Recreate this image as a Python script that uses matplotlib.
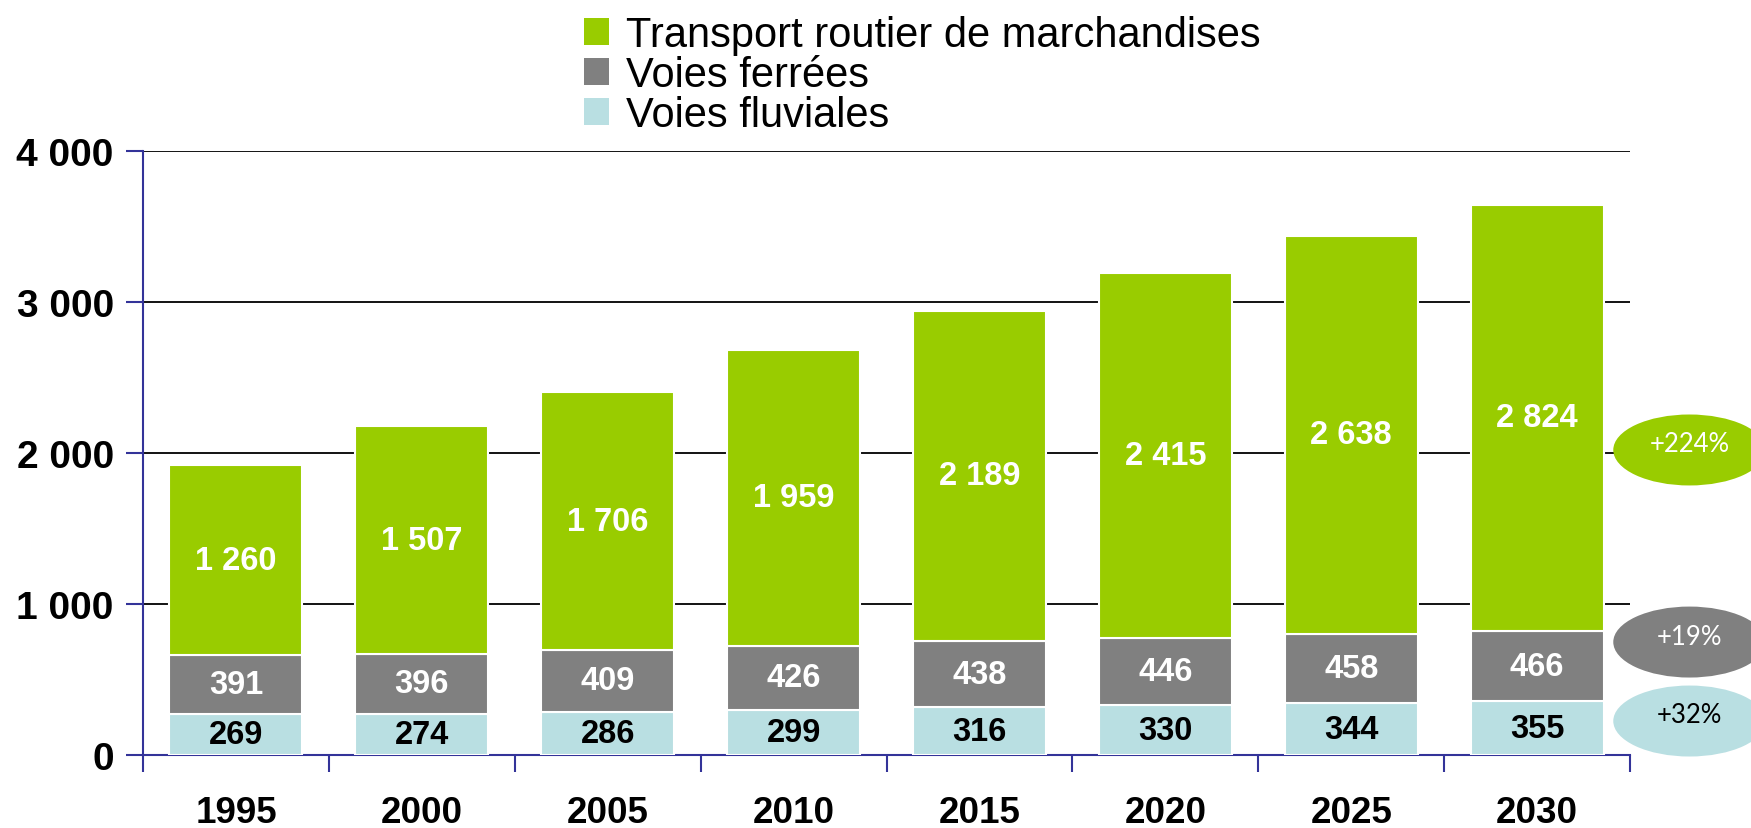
import matplotlib
matplotlib.use("Agg")
import matplotlib.pyplot as plt
from matplotlib.patches import Ellipse, Patch
import numpy as np

# data
years = ["1995", "2000", "2005", "2010", "2015", "2020", "2025", "2030"]
fluviales = [269, 274, 286, 299, 316, 330, 344, 355]
ferrees = [391, 396, 409, 426, 438, 446, 458, 466]
routier = [1260, 1507, 1706, 1959, 2189, 2415, 2638, 2824]
series_names = ["Transport routier de marchandises", "Voies ferrées", "Voies fluviales"]
growth_labels = ["+224%", "+19%", "+32%"]
growth_y = [2020, 748, 225]

yticks = [0, 1000, 2000, 3000, 4000]

GREEN = "#99CC00"
GREY = "#808080"
BLUE = "#B9DFE2"
AXIS = "#333399"

plt.rcParams['font.family'] = ['Liberation Sans', 'DejaVu Sans']


def fmt(v):
    return "{:,}".format(v).replace(",", " ")


fig = plt.figure(figsize=(17.51, 8.29), dpi=100)
ax = fig.add_axes([143 / 1751, 73 / 829, (1630 - 143) / 1751, (756 - 152) / 829])

x = np.arange(len(years))
w = 0.715
fl = np.array(fluviales)
fe = np.array(ferrees)
ro = np.array(routier)

ax.bar(x, fl, w, color=BLUE, edgecolor="white", linewidth=1.5, zorder=3)
ax.bar(x, fe, w, bottom=fl, color=GREY, edgecolor="white", linewidth=1.5, zorder=3)
ax.bar(x, ro, w, bottom=fl + fe, color=GREEN, edgecolor="white", linewidth=1.5, zorder=3)

for i in range(len(years)):
    ax.text(x[i], fl[i] / 2, fmt(fl[i]), ha="center", va="center",
            fontsize=23.5, fontweight="bold", color="black", zorder=4)
    ax.text(x[i], fl[i] + fe[i] / 2, fmt(fe[i]), ha="center", va="center",
            fontsize=23.5, fontweight="bold", color="white", zorder=4)
    ax.text(x[i], fl[i] + fe[i] + ro[i] / 2, fmt(ro[i]), ha="center", va="center",
            fontsize=23.5, fontweight="bold", color="white", zorder=4)

ax.set_xlim(-0.5, len(years) - 0.5)
ax.set_ylim(0, 4000)

# grid lines
for v in yticks[1:]:
    ax.axhline(v, color="black", linewidth=1.3, zorder=1)

for s in ["top", "right"]:
    ax.spines[s].set_visible(False)
for s in ["left", "bottom"]:
    ax.spines[s].set_color(AXIS)
    ax.spines[s].set_linewidth(1.5)

ax.set_yticks(yticks)
ax.set_yticklabels([fmt(v) for v in yticks], fontsize=28, fontweight="bold")
ax.tick_params(axis="y", direction="out", length=12, width=1.5, color=AXIS, pad=9)

ax.set_xticks(np.arange(len(years) + 1) - 0.5)
ax.set_xticklabels([])
ax.set_xticks(x, minor=True)
ax.set_xticklabels(years, minor=True, fontsize=26.5, fontweight="bold")
ax.tick_params(axis="x", which="major", direction="out", length=12, width=1.5, color=AXIS)
ax.tick_params(axis="x", which="minor", length=0, pad=29)

# growth ellipses at the right
ell_colors = [GREEN, GREY, BLUE]
txt_colors = ["white", "white", "black"]
for lab, yv, c, tc in zip(growth_labels, growth_y, ell_colors, txt_colors):
    e = Ellipse((7.82, yv), 0.82, 470, facecolor=c, edgecolor="none", clip_on=False, zorder=5)
    ax.add_patch(e)
    ax.text(7.82, yv + 40, lab, ha="center", va="center", fontsize=18.5,
            color=tc, family=["Lato", "DejaVu Sans"], clip_on=False, zorder=6)

handles = [Patch(facecolor=GREEN), Patch(facecolor=GREY), Patch(facecolor=BLUE)]
fig.legend(handles, series_names, loc="upper left", bbox_to_anchor=(580 / 1751, 1 - 12 / 829),
           frameon=False, fontsize=30, handlelength=0.6, handleheight=0.6,
           handletextpad=0.4, labelspacing=0.0, borderaxespad=0, borderpad=0.1)

fig.savefig("out.png", dpi=100)
